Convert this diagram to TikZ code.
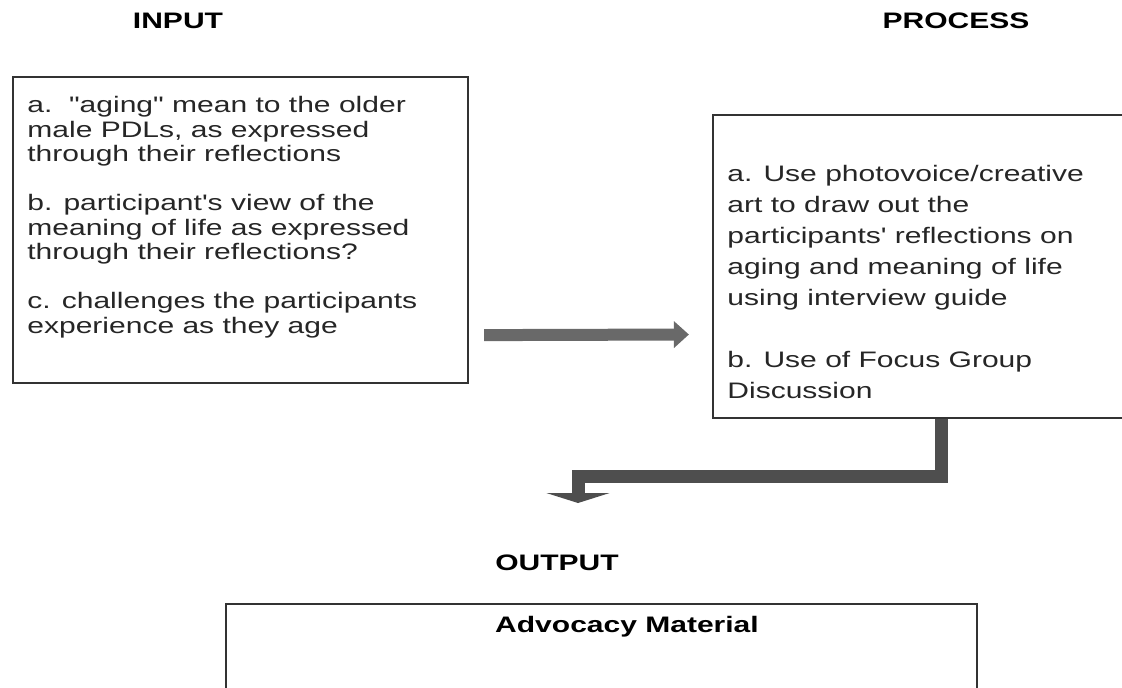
\documentclass[tikz,border=0pt]{standalone}
\usepackage{fontspec}
\setmainfont{Liberation Sans}[FakeStretch=1.34, Ligatures=TeXOff]
\definecolor{BoxLine}{RGB}{51,51,51}
\definecolor{ArrowGray}{RGB}{105,105,105}
\definecolor{ArrowDark}{RGB}{78,78,78}
\usetikzlibrary{arrows.meta, positioning}

\begin{document}
\begin{tikzpicture}[x=0.5pt, y=-0.5pt,
	box/.style={draw=BoxLine, line width=1.1pt, inner sep=0pt},
	boxtext/.style={anchor=north west, align=left, inner sep=0pt, text=black!85},
	heading/.style={font=\bfseries\fontsize{11.2}{13}\selectfont},
	flowarrow/.style={ArrowGray, line width=6pt, -{Triangle[width=13pt, length=7.5pt]}},
	droparrow/.style={ArrowDark, line width=6.5pt, -{Triangle[width=31.5pt, length=5pt]}}]
	\useasboundingbox (0,0) rectangle (1122,687);
	\clip (0,0) rectangle (1122,687);
	\node[heading] (inputhead) at (178,21) {INPUT};
	\node[heading] (processhead) at (956,21) {PROCESS};
	\node[heading] (outputhead) at (557,563) {OUTPUT};
	\node[box, minimum width=227.5pt, minimum height=153pt] (input) at (240.5,230) {};
	\node[box, minimum width=228pt, minimum height=151.5pt] (process) at (941,266.5) {};
	\node[box, minimum width=375.5pt, minimum height=78pt] (output) at (601.5,682) {};
	\node[boxtext, font=\fontsize{11.2}{12.25}\selectfont] (inputtext) at (27,96)
		{a.~~"aging" mean to the older\\ male PDLs, as expressed\\ through their reflections\\[12.25pt]
		b. participant's view of the\\ meaning of life as expressed\\ through their reflections?\\[12.25pt]
		c. challenges the participants\\ experience as they age};
	\node[boxtext, font=\fontsize{11.2}{15.5}\selectfont] (processtext) at (727,165)
		{a. Use photovoice/creative\\ art to draw out the\\ participants' reflections on\\ aging and meaning of life\\ using interview guide\\[15.5pt]
		b. Use of Focus Group\\ Discussion};
	\node[heading] (outputtext) at (627,627) {Advocacy Material};
	\coordinate (drop) at (578,503);
	\draw[flowarrow] ([shift={(15,-49)}]input.south east) -- ([shift={(-23,68)}]process.west);
	\draw[droparrow] (process.south) -- ++(0,57) -| (drop);
\end{tikzpicture}
\end{document}
